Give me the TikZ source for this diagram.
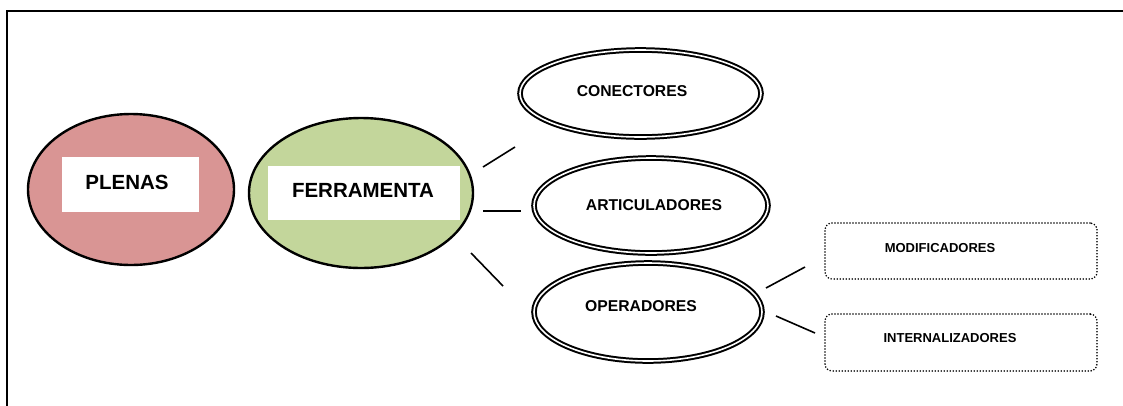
\documentclass[tikz,border=0pt]{standalone}
\usepackage{fontspec}
\setmainfont{Liberation Sans}
\usetikzlibrary{shapes.geometric}
\definecolor{plenasred}{HTML}{D99594}
\definecolor{ferrgreen}{HTML}{C3D69B}
\begin{document}
\begin{tikzpicture}[x=1pt,y=-1pt,
  ell/.style={ellipse,draw=black,line width=2.4pt,inner sep=0pt},
  dbl/.style={ellipse,draw=black,line width=2pt,double=white,double distance=1.6pt,inner sep=0pt},
  wbox/.style={rectangle,fill=white,inner sep=0pt},
  dotbox/.style={rectangle,rounded corners=7pt,draw=black,line width=1.8pt,line cap=round,dash pattern=on 0pt off 3pt,minimum width=272pt,minimum height=56pt,inner sep=0pt},
  lbl/.style={font=\bfseries\fontsize{13}{15}\selectfont,inner sep=0pt},
  mid/.style={font=\bfseries\fontsize{15.7}{18}\selectfont,inner sep=0pt},
  big/.style={font=\bfseries\fontsize{20.5}{24}\selectfont,inner sep=0pt},
  conn/.style={line width=1.6pt}]
\useasboundingbox (0,0) rectangle (1123,405);
% frame (left and top edges visible)
\coordinate (fbl) at (7,410);
\coordinate (ftl) at (7,11);
\coordinate (ftr) at (1130,11);
\draw[line width=1.9pt] (fbl) -- (ftl) -- (ftr);
% PLENAS
\node[ell,fill=plenasred,minimum width=206pt,minimum height=151pt] (plenas) at (131,189.5) {};
\node[wbox,minimum width=137pt,minimum height=55pt] (plenasbox) at (130.5,184.5) {};
\node[big] (plenastxt) at (127,182) {PLENAS};
% FERRAMENTA
\node[ell,fill=ferrgreen,minimum width=224pt,minimum height=150pt] (ferr) at (361,193) {};
\node[wbox,minimum width=192pt,minimum height=54pt] (ferrbox) at (364,193) {};
\node[big] (ferrtxt) at (363,190) {FERRAMENTA};
% double ellipses
\node[dbl,minimum width=241pt,minimum height=87pt] (con) at (640.5,93.5) {};
\node[mid] (contxt) at (632,91) {CONECTORES};
\node[dbl,minimum width=234pt,minimum height=95pt] (art) at (651,205.5) {};
\node[mid] (arttxt) at (654,205) {ARTICULADORES};
\node[dbl,minimum width=228pt,minimum height=98pt] (ope) at (648,312) {};
\node[mid] (opetxt) at (641,306) {OPERADORES};
% dotted boxes
\node[dotbox] (mod) at (961,251) {};
\node[lbl] (modtxt) at (940,248) {MODIFICADORES};
\node[dotbox,minimum height=57pt] (int) at (961,342.5) {};
\node[lbl] (inttxt) at (950,338) {INTERNALIZADORES};
% connectors (free-floating)
\coordinate (c1a) at (483,167); \coordinate (c1b) at (515,147);
\coordinate (c2a) at (483,211); \coordinate (c2b) at (521,211);
\coordinate (c3a) at (471,253); \coordinate (c3b) at (503,286);
\coordinate (c4a) at (766,288); \coordinate (c4b) at (805,267);
\coordinate (c5a) at (776,316); \coordinate (c5b) at (815,333);
\draw[conn] (c1a) -- (c1b);
\draw[conn] (c2a) -- (c2b);
\draw[conn] (c3a) -- (c3b);
\draw[conn] (c4a) -- (c4b);
\draw[conn] (c5a) -- (c5b);
\end{tikzpicture}
\end{document}
